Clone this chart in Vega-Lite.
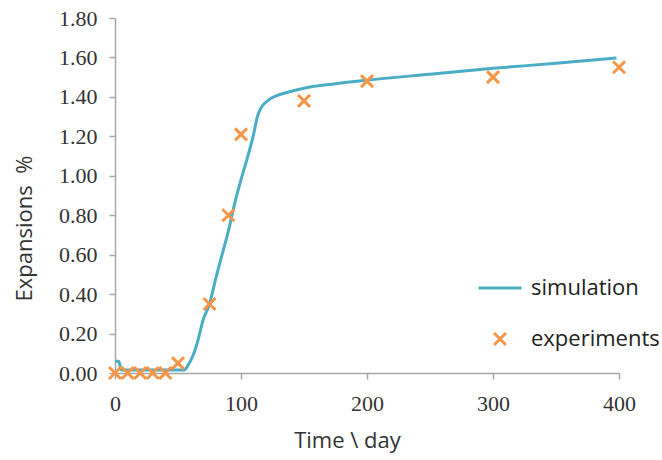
{
  "$schema": "https://vega.github.io/schema/vega-lite/v6.json",
  "width": 504,
  "height": 355,
  "autosize": {"type": "none"},
  "padding": {"left": 115, "top": 18, "right": 43, "bottom": 87},
  "background": "white",
  "config": {
    "view": {"stroke": null},
    "axis": {
      "grid": false,
      "domainColor": "#a6a6a6",
      "tickColor": "#a6a6a6",
      "domainWidth": 1.5,
      "tickWidth": 1.5,
      "tickSize": 6,
      "labelFlush": false,
      "labelOverlap": false,
      "labelFont": "Liberation Serif",
      "labelFontSize": 22,
      "labelColor": "#333333",
      "titleFont": "Open Sans",
      "titleFontSize": 22,
      "titleFontWeight": "normal",
      "titleColor": "#333333"
    }
  },
  "datasets": {
    "sim": [
      {"day": 0, "value": 0.06, "series": "simulation"},
      {"day": 3, "value": 0.06, "series": "simulation"},
      {"day": 5, "value": 0.015, "series": "simulation"},
      {"day": 20, "value": 0.015, "series": "simulation"},
      {"day": 40, "value": 0.015, "series": "simulation"},
      {"day": 55, "value": 0.015, "series": "simulation"},
      {"day": 58, "value": 0.04, "series": "simulation"},
      {"day": 62, "value": 0.09, "series": "simulation"},
      {"day": 66, "value": 0.17, "series": "simulation"},
      {"day": 70, "value": 0.27, "series": "simulation"},
      {"day": 75, "value": 0.35, "series": "simulation"},
      {"day": 80, "value": 0.48, "series": "simulation"},
      {"day": 85, "value": 0.6, "series": "simulation"},
      {"day": 90, "value": 0.72, "series": "simulation"},
      {"day": 95, "value": 0.86, "series": "simulation"},
      {"day": 100, "value": 0.98, "series": "simulation"},
      {"day": 105, "value": 1.09, "series": "simulation"},
      {"day": 110, "value": 1.21, "series": "simulation"},
      {"day": 113, "value": 1.3, "series": "simulation"},
      {"day": 116, "value": 1.345, "series": "simulation"},
      {"day": 121, "value": 1.38, "series": "simulation"},
      {"day": 128, "value": 1.405, "series": "simulation"},
      {"day": 135, "value": 1.42, "series": "simulation"},
      {"day": 150, "value": 1.444, "series": "simulation"},
      {"day": 175, "value": 1.467, "series": "simulation"},
      {"day": 200, "value": 1.485, "series": "simulation"},
      {"day": 250, "value": 1.515, "series": "simulation"},
      {"day": 300, "value": 1.545, "series": "simulation"},
      {"day": 350, "value": 1.57, "series": "simulation"},
      {"day": 398, "value": 1.597, "series": "simulation"}
    ],
    "exp": [
      {"day": 0, "value": 0.0, "series": "experiments"},
      {"day": 10, "value": 0.0, "series": "experiments"},
      {"day": 20, "value": 0.0, "series": "experiments"},
      {"day": 30, "value": 0.0, "series": "experiments"},
      {"day": 40, "value": 0.0, "series": "experiments"},
      {"day": 50, "value": 0.05, "series": "experiments"},
      {"day": 75, "value": 0.35, "series": "experiments"},
      {"day": 90, "value": 0.8, "series": "experiments"},
      {"day": 100, "value": 1.21, "series": "experiments"},
      {"day": 150, "value": 1.38, "series": "experiments"},
      {"day": 200, "value": 1.48, "series": "experiments"},
      {"day": 300, "value": 1.5, "series": "experiments"},
      {"day": 400, "value": 1.55, "series": "experiments"}
    ]
  },
  "encoding": {
    "x": {
      "field": "day",
      "type": "quantitative",
      "scale": {"domain": [0, 400], "nice": false, "zero": false},
      "axis": {"values": [0, 100, 200, 300, 400], "title": "Time \\ day", "labelPadding": 14, "titlePadding": 16, "titleX": 232}
    },
    "y": {
      "field": "value",
      "type": "quantitative",
      "scale": {"domain": [0, 1.8], "nice": false},
      "axis": {"values": [0, 0.2, 0.4, 0.6, 0.8, 1.0, 1.2, 1.4, 1.6, 1.8], "format": ".2f", "title": "Expansions\u00a0 %", "labelPadding": 12, "titlePadding": 22, "titleY": 210}
    },
    "color": {
      "field": "series",
      "type": "nominal",
      "scale": {"domain": ["simulation", "experiments"], "range": ["#4bacc6", "#f79646"]},
      "legend": {
        "title": null,
        "orient": "none",
        "legendX": 374,
        "legendY": 259,
        "padding": 0,
        "symbolSize": 1849,
        "labelFont": "Open Sans",
        "labelFontSize": 22,
        "labelColor": "#222222",
        "labelOffset": 20,
        "rowPadding": 28,
        "encode": {
          "symbols": {
            "update": {
              "shape": {"signal": "datum.value === 'simulation' ? 'stroke' : 'M-1,-1L1,1M1,-1L-1,1'"},
              "size": {"signal": "datum.value === 'simulation' ? 1849 : 144"},
              "strokeWidth": {"value": 3},
              "fill": {"value": "transparent"},
              "opacity": {"value": 1}
            }
          }
        }
      }
    }
  },
  "layer": [
    {
      "data": {"name": "sim"},
      "mark": {"type": "line", "strokeWidth": 3, "interpolate": "monotone"}
    },
    {
      "data": {"name": "exp"},
      "mark": {"type": "point", "shape": "M-1,-1L1,1M1,-1L-1,1", "size": 144, "strokeWidth": 3, "filled": false, "opacity": 1, "clip": false}
    }
  ]
}
